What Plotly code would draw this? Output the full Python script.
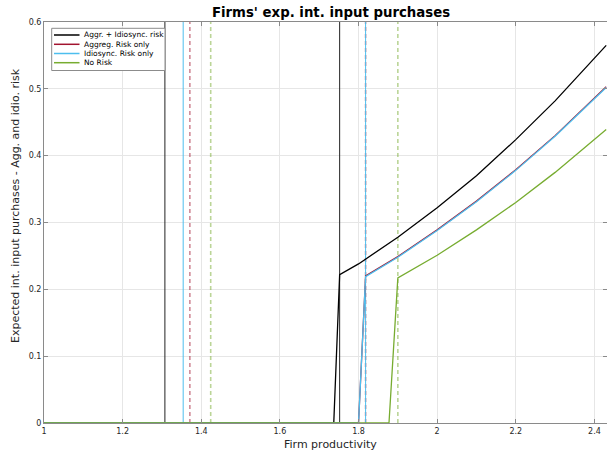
import plotly.graph_objects as go

# Expected intermediate input purchases by firm productivity, per risk scenario
series_names = ["Aggr. + Idiosync. risk", "Aggreg. Risk only", "Idiosync. Risk only", "No Risk"]
series_colors = ["#000000", "#A2142F", "#4DBEEE", "#77AC30"]

x_agg_idio = [1.0, 1.737, 1.752, 1.8, 1.9, 2.0, 2.1, 2.2, 2.3, 2.43]
y_agg_idio = [0.0, 0.0, 0.222, 0.238, 0.278, 0.322, 0.370, 0.424, 0.482, 0.565]

x_agg = [1.0, 1.800, 1.818, 1.9, 2.0, 2.1, 2.2, 2.3, 2.43]
y_agg = [0.0, 0.0, 0.220, 0.249, 0.289, 0.332, 0.379, 0.430, 0.503]

x_idio = [1.0, 1.800, 1.818, 1.9, 2.0, 2.1, 2.2, 2.3, 2.43]
y_idio = [0.0, 0.0, 0.219, 0.248, 0.288, 0.331, 0.378, 0.429, 0.502]

x_none = [1.0, 1.8775, 1.900, 2.0, 2.1, 2.2, 2.3, 2.43]
y_none = [0.0, 0.0, 0.217, 0.251, 0.289, 0.330, 0.375, 0.439]

# Productivity thresholds (vertical markers)
thr_agg_idio = [1.3075, 1.752]
thr_idio = [1.354, 1.818]
thr_agg = [1.371, 1.818]
thr_none = [1.424, 1.900]

x_ticks = [1.0, 1.2, 1.4, 1.6, 1.8, 2.0, 2.2, 2.4]
x_ticklabels = ["1", "1.2", "1.4", "1.6", "1.8", "2", "2.2", "2.4"]
y_ticks = [0.0, 0.1, 0.2, 0.3, 0.4, 0.5, 0.6]
y_ticklabels = ["0", "0.1", "0.2", "0.3", "0.4", "0.5", "0.6"]

X_RANGE = [1.0, 2.432]
Y_RANGE = [0.0, 0.6]

fig = go.Figure()


def vline(x, color, dash, width):
    fig.add_trace(go.Scatter(x=[x, x], y=Y_RANGE, mode="lines",
                             line=dict(color=color, dash=dash, width=width),
                             showlegend=False, hoverinfo="skip"))


for v in thr_agg_idio:
    vline(v, "#222222", "solid", 1)
for v in thr_agg:
    vline(v, "rgba(162,20,47,0.5)", "4px,3px", 1.6)
for v in thr_idio:
    vline(v, "#4DBEEE", "solid", 1)
for v in thr_none:
    vline(v, "rgba(119,172,48,0.5)", "4px,3px", 1.6)

curves = [(x_agg_idio, y_agg_idio), (x_agg, y_agg), (x_idio, y_idio), (x_none, y_none)]
for (xs, ys), name, color in zip(curves, series_names, series_colors):
    fig.add_trace(go.Scatter(x=xs, y=ys, mode="lines", name=name,
                             line=dict(color=color, width=1.3),
                             showlegend=False))

# Legend box drawn in paper coordinates
PLOT_L, PLOT_T, PLOT_W, PLOT_H = 44, 22, 563, 401


def px_x(p):
    return (p - PLOT_L) / PLOT_W


def px_y(p):
    return (PLOT_T + PLOT_H - p) / PLOT_H


shapes = [dict(type="rect", xref="paper", yref="paper",
               x0=px_x(51.7), x1=px_x(165), y0=px_y(70.5), y1=px_y(28.3),
               line=dict(color="#8c8c8c", width=1), fillcolor="white", layer="above")]
annotations = []
entry_rows = [35.0, 44.3, 53.5, 62.7]
for row, name, color in zip(entry_rows, series_names, series_colors):
    shapes.append(dict(type="line", xref="paper", yref="paper",
                       x0=px_x(54), x1=px_x(79.5), y0=px_y(row), y1=px_y(row),
                       line=dict(color=color, width=1.5), layer="above"))
    annotations.append(dict(text=name, xref="paper", yref="paper",
                            x=px_x(81.5), y=px_y(row), xanchor="left", yanchor="middle",
                            showarrow=False, font=dict(size=7.5, color="#000")))

annotations.append(dict(text="Firm productivity", xref="paper", yref="paper",
                        x=px_x(330), y=px_y(444), xanchor="center", yanchor="middle",
                        showarrow=False, font=dict(size=11, color="#262626")))
annotations.append(dict(text="Expected int. input purchases - Agg. and idio. risk",
                        xref="paper", yref="paper", x=px_x(16), y=px_y(206),
                        xanchor="center", yanchor="middle", textangle=-90,
                        showarrow=False, font=dict(size=11, color="#262626")))

axis_common = dict(showline=True, linecolor="#8a8a8a", linewidth=1, mirror="ticks",
                   ticks="inside", ticklen=4, tickcolor="#8a8a8a",
                   showgrid=True, gridcolor="#e6e6e6", gridwidth=1, zeroline=False,
                   tickfont=dict(size=8, color="#262626"))

fig.update_layout(
    width=607, height=455,
    margin=dict(l=PLOT_L, r=0, t=PLOT_T, b=455 - PLOT_T - PLOT_H, pad=0),
    paper_bgcolor="white", plot_bgcolor="white",
    font=dict(family="DejaVu Sans"),
    title=dict(text="<b>Firms' exp. int. input purchases</b>", xref="paper",
               x=px_x(331), xanchor="center", yref="container", y=1 - 12 / 455,
               yanchor="middle", font=dict(size=13.3, color="#000")),
    xaxis=dict(range=X_RANGE, tickvals=x_ticks, ticktext=x_ticklabels, **axis_common),
    yaxis=dict(range=Y_RANGE, tickvals=y_ticks, ticktext=y_ticklabels, **axis_common),
    shapes=shapes, annotations=annotations, showlegend=False,
)

fig.write_html("out.html")
